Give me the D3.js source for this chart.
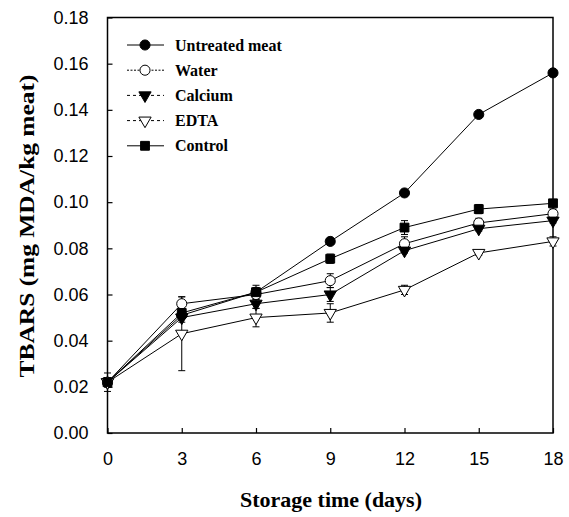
<!DOCTYPE html>
<html><head><meta charset="utf-8">
<script src="https://cdn.jsdelivr.net/npm/d3@7"></script>
<style>body{margin:0;background:#fff}svg{display:block}
.serif{font-family:"Liberation Serif","Times New Roman",Times,serif;font-weight:bold}
.sans{font-family:"Liberation Sans",Arial,Helvetica,sans-serif}
</style>
</head><body><svg id="c" width="569" height="517"></svg>
<script>
const days = [0, 3, 6, 9, 12, 15, 18];
const seriesNames = ["Untreated meat", "Water", "Calcium", "EDTA", "Control"];
const untreated = [0.022, 0.051, 0.061, 0.083, 0.104, 0.138, 0.156];
const water     = [0.022, 0.056, 0.060, 0.066, 0.082, 0.091, 0.095];
const calcium   = [0.022, 0.050, 0.056, 0.060, 0.079, 0.0885, 0.092];
const edta      = [0.022, 0.043, 0.050, 0.052, 0.062, 0.078, 0.083];
const control   = [0.022, 0.052, 0.061, 0.0755, 0.089, 0.097, 0.0995];
const untreatedErr = [0.001, 0.001, 0.002, 0.001, 0.001, 0.001, 0.001];
const waterErr     = [0.002, 0.003, 0.002, 0.003, 0.003, 0.002, 0.002];
const calciumErr   = [0.002, 0.002, 0.002, 0.003, 0.001, 0.001, 0.001];
const edtaErr      = [0.002, 0.016, 0.004, 0.004, 0.002, 0.001, 0.002];
const controlErr   = [0.004, 0.002, 0.003, 0.002, 0.003, 0.002, 0.001];
const xTicks = [0, 3, 6, 9, 12, 15, 18];
const yTicks = [0, 0.02, 0.04, 0.06, 0.08, 0.10, 0.12, 0.14, 0.16, 0.18];

const values = [untreated, water, calcium, edta, control];
const errs = [untreatedErr, waterErr, calciumErr, edtaErr, controlErr];
const markers = [
  {type: d3.symbolCircle, size: 80, fill: "#000", rot: 0},
  {type: d3.symbolCircle, size: 80, fill: "#fff", rot: 0},
  {type: d3.symbolTriangle, size: 65, fill: "#000", rot: 180},
  {type: d3.symbolTriangle, size: 65, fill: "#fff", rot: 180},
  {type: d3.symbolSquare, size: 78, fill: "#000", rot: 0}
];
const legendDash = [null, "2,1.5", "3,3", "3,3", null];

const svg = d3.select("#c");
const x = d3.scaleLinear().domain([0, 18]).range([107.5, 553]);
const y = d3.scaleLinear().domain([0, 0.18]).range([433, 17.5]);

// frame
svg.append("rect").attr("x", x(0)).attr("y", y(0.18))
  .attr("width", x(18) - x(0)).attr("height", y(0) - y(0.18))
  .attr("fill", "none").attr("stroke", "#000").attr("stroke-width", 1.5);

const yAxis = svg.append("g").attr("transform", `translate(${x(0)},0)`)
  .call(d3.axisLeft(y).tickValues(yTicks).tickFormat(d3.format(".2f"))
    .tickSizeInner(-5).tickSizeOuter(0).tickPadding(19));
const xAxis = svg.append("g").attr("transform", `translate(0,${y(0)})`)
  .call(d3.axisBottom(x).tickValues(xTicks).tickFormat(d3.format("d"))
    .tickSizeInner(-5).tickSizeOuter(0).tickPadding(19));
[yAxis, xAxis].forEach(g => {
  g.attr("font-family", null).attr("font-size", null);
  g.select(".domain").remove();
  g.selectAll("line").attr("stroke", "#000").attr("stroke-width", 1.2);
  g.selectAll("text").attr("class", "sans")
    .style("font-size", "18px").attr("fill", "#000");
});

// titles
svg.append("text").attr("class", "serif").attr("x", 331).attr("y", 507).attr("text-anchor", "middle")
  .style("font-size", "22px").attr("textLength", 182).attr("lengthAdjust", "spacingAndGlyphs")
  .text("Storage time (days)");
svg.append("text").attr("class", "serif").attr("transform", "translate(34,226) rotate(-90)").attr("text-anchor", "middle")
  .style("font-size", "21px").attr("textLength", 303).attr("lengthAdjust", "spacingAndGlyphs")
  .text("TBARS (mg MDA/kg meat)");

const line = d3.line().x((d, i) => x(days[i])).y(d => y(d));
const plot = svg.append("g");
values.forEach((vals, s) => {
  plot.append("path").datum(vals).attr("d", line)
    .attr("fill", "none").attr("stroke", "#000").attr("stroke-width", 1);
});
// error bars
values.forEach((vals, s) => {
  const g = plot.append("g");
  vals.forEach((v, i) => {
    const e = errs[s][i];
    const cx = x(days[i]);
    g.append("line").attr("x1", cx).attr("x2", cx).attr("y1", y(v - e)).attr("y2", y(v + e))
      .attr("stroke", "#000").attr("stroke-width", 1);
    [v - e, v + e].forEach(w => g.append("line").attr("x1", cx - 3.5).attr("x2", cx + 3.5)
      .attr("y1", y(w)).attr("y2", y(w)).attr("stroke", "#000").attr("stroke-width", 1));
  });
});
// markers
values.forEach((vals, s) => {
  const m = markers[s];
  plot.append("g").selectAll("path").data(vals).join("path")
    .attr("d", d3.symbol().type(m.type).size(m.size))
    .attr("transform", (d, i) => `translate(${x(days[i])},${y(d)}) rotate(${m.rot})`)
    .attr("fill", m.fill).attr("stroke", "#000").attr("stroke-width", 1);
});

// legend
const leg = svg.append("g");
seriesNames.forEach((name, s) => {
  const ly = 45 + s * 25.2;
  const m = markers[s];
  leg.append("line").attr("x1", 127).attr("x2", 164).attr("y1", ly).attr("y2", ly)
    .attr("stroke", "#000").attr("stroke-width", 1)
    .attr("stroke-dasharray", legendDash[s]);
  leg.append("path").attr("d", d3.symbol().type(m.type).size(m.size))
    .attr("transform", `translate(145,${ly}) rotate(${m.rot})`)
    .attr("fill", m.fill).attr("stroke", "#000").attr("stroke-width", 1);
  leg.append("text").attr("class", "serif").attr("x", 175).attr("y", ly + 5.5)
    .style("font-size", "16px").text(name);
});
</script></body></html>
